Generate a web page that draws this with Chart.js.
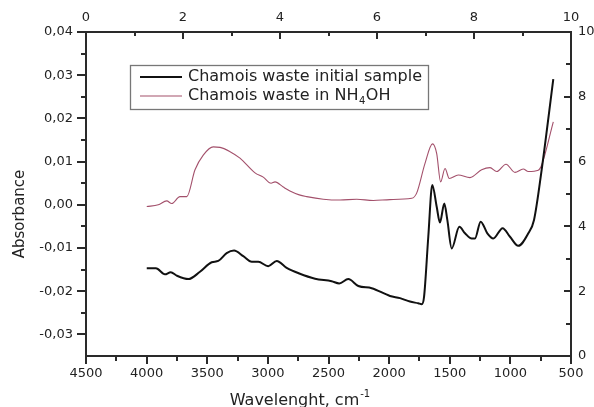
<!DOCTYPE html>
<html>
<head>
<meta charset="utf-8">
<script src="https://cdn.jsdelivr.net/npm/chart.js@4"></script>
<style>
html,body{margin:0;padding:0;background:#fff;}
canvas{display:block;}
</style>
</head>
<body>
<canvas id="c" width="594" height="407"></canvas>
<script>
// ---- data ----
const seriesLabels = ['Chamois waste initial sample', 'Chamois waste in NH\u2084OH'];
const wavenumberInitial = [3999,3923,3849,3801,3752,3656,3560,3463,3409,3340,3279,3203,3133,3079,2997,2927,2845,2741,2611,2474,2411,2337,2254,2144,1993,1910,1828,1760,1731,1712,1677,1644,1608,1581,1545,1520,1484,1421,1374,1319,1292,1245,1190,1141,1064,1003,935,852,805,742,646];
const absorbanceInitial = [-0.0147,-0.0147,-0.0161,-0.0156,-0.0164,-0.0172,-0.0155,-0.0133,-0.0130,-0.0112,-0.0106,-0.0119,-0.0132,-0.0132,-0.0142,-0.0130,-0.0146,-0.0159,-0.0171,-0.0177,-0.0182,-0.0172,-0.0188,-0.0193,-0.0211,-0.0216,-0.0224,-0.0228,-0.0230,-0.0213,-0.0074,0.0046,-0.0004,-0.0041,0.0003,-0.0035,-0.0101,-0.0051,-0.0066,-0.0078,-0.0078,-0.0039,-0.0066,-0.0078,-0.0054,-0.0074,-0.0095,-0.0066,-0.0035,0.0081,0.0291];
const wavenumberNH4OH = [3999,3904,3834,3793,3725,3669,3601,3533,3450,3395,3312,3230,3106,3038,2974,2941,2873,2818,2741,2680,2543,2405,2267,2131,1993,1814,1773,1704,1642,1608,1575,1539,1504,1430,1333,1237,1168,1113,1036,962,894,852,770,742,646];
const absorbanceNH4OH = [-0.0004,0.0000,0.0009,0.0003,0.0019,0.0019,0.0081,0.0115,0.0134,0.0133,0.0123,0.0108,0.0074,0.0064,0.0050,0.0053,0.0041,0.0032,0.0023,0.0019,0.0013,0.0011,0.0013,0.0010,0.0012,0.0015,0.0027,0.0096,0.0141,0.0119,0.0053,0.0084,0.0061,0.0069,0.0063,0.0081,0.0086,0.0077,0.0094,0.0075,0.0083,0.0077,0.0080,0.0092,0.0192];

const xTicksBottom = [4500,4000,3500,3000,2500,2000,1500,1000,500];
const xMinorBottom = [4250,3750,3250,2750,2250,1750,1250,750];
const yTicksLeft = [-0.03,-0.02,-0.01,0.00,0.01,0.02,0.03,0.04];
const yMinorLeft = [-0.025,-0.015,-0.005,0.005,0.015,0.025,0.035];
const auxTicks = [0,2,4,6,8,10];
const auxMinor = [1,3,5,7,9];

const xTitle = 'Wavelenght, cm';
const xTitleSup = '-1';
const yTitle = 'Absorbance';

const FONT = '"DejaVu Sans", "Liberation Sans", sans-serif';
const AXIS = '#2a2a2a';
const TEXT = '#222';

function pts(xs, ys){ return xs.map((x,i)=>({x:x, y:ys[i]})); }
function fmtComma(v){ return (Math.abs(v) < 1e-9 ? 0 : v).toFixed(2).replace('.', ','); }

const decorPlugin = {
  id: 'decor',
  afterDraw(chart){
    const ctx = chart.ctx;
    const s = chart.scales;
    const ca = chart.chartArea;
    ctx.save();
    ctx.strokeStyle = AXIS;
    ctx.lineWidth = 2;
    ctx.lineCap = 'butt';
    function line(x1,y1,x2,y2){ ctx.beginPath(); ctx.moveTo(x1,y1); ctx.lineTo(x2,y2); ctx.stroke(); }
    // left ticks (outward)
    yTicksLeft.forEach(v=>{ const y=Math.round(s.y.getPixelForValue(v)); line(ca.left-9,y,ca.left,y); });
    yMinorLeft.forEach(v=>{ const y=Math.round(s.y.getPixelForValue(v)); line(ca.left-5,y,ca.left,y); });
    // bottom ticks (outward)
    xTicksBottom.forEach(v=>{ const x=Math.round(s.x.getPixelForValue(v)); line(x,ca.bottom,x,ca.bottom+8); });
    xMinorBottom.forEach(v=>{ const x=Math.round(s.x.getPixelForValue(v)); line(x,ca.bottom,x,ca.bottom+5); });
    // top ticks (inward)
    auxTicks.forEach(v=>{ const x=Math.round(s.x2.getPixelForValue(v)); line(x,ca.top,x,ca.top+7); });
    auxMinor.forEach(v=>{ const x=Math.round(s.x2.getPixelForValue(v)); line(x,ca.top,x,ca.top+4); });
    // right ticks (inward)
    auxTicks.forEach(v=>{ const y=Math.round(s.y2.getPixelForValue(v)); line(ca.right-7,y,ca.right,y); });
    auxMinor.forEach(v=>{ const y=Math.round(s.y2.getPixelForValue(v)); line(ca.right-5,y,ca.right,y); });

    // legend box
    const bx=130, by=65, bw=298, bh=44;
    ctx.fillStyle='#fff';
    ctx.fillRect(bx,by,bw,bh);
    ctx.lineWidth=1.3;
    ctx.strokeStyle='#777';
    ctx.strokeRect(bx+0.5,by+0.5,bw,bh);
    const ds = chart.data.datasets;
    const rows=[77,96];
    ds.forEach((d,i)=>{
      ctx.strokeStyle=d.borderColor;
      ctx.lineWidth=d.borderWidth;
      line(140,rows[i],182,rows[i]);
      ctx.fillStyle=TEXT;
      ctx.textBaseline='middle';
      ctx.textAlign='left';
      const parts = d.label.split('\u2084');
      ctx.font='16px '+FONT;
      let x=188;
      ctx.fillText(parts[0],x,rows[i]);
      if(parts.length>1){
        x+=ctx.measureText(parts[0]).width;
        ctx.font='10px '+FONT;
        ctx.fillText('4',x+0.5,rows[i]+5);
        x+=ctx.measureText('4').width+1;
        ctx.font='16px '+FONT;
        ctx.fillText(parts[1],x,rows[i]);
      }
    });

    // x title with superscript
    ctx.fillStyle=TEXT;
    ctx.textBaseline='alphabetic';
    ctx.textAlign='left';
    ctx.font='16px '+FONT;
    const w1=ctx.measureText(xTitle).width;
    ctx.font='10px '+FONT;
    const w2=ctx.measureText(xTitleSup).width;
    const total=w1+w2+1;
    const cx=300;
    let tx=cx-total/2;
    ctx.font='16px '+FONT;
    ctx.fillText(xTitle,tx,405);
    ctx.font='10px '+FONT;
    ctx.fillText(xTitleSup,tx+w1+1,397);

    // y title
    ctx.save();
    ctx.translate(24,214);
    ctx.rotate(-Math.PI/2);
    ctx.font='15px '+FONT;
    ctx.textAlign='center';
    ctx.textBaseline='alphabetic';
    ctx.fillText(yTitle,0,0);
    ctx.restore();
    ctx.restore();
  }
};

function fixed(size, dim){ return function(scale){ scale[dim]=size; }; }

const tickFont = {family: FONT, size: 13};
const noGrid = {display:false, drawTicks:false, tickLength:0};
const border = {display:true, width:2, color:AXIS};

new Chart(document.getElementById('c'), {
  type: 'line',
  data: {
    datasets: [
      {label: seriesLabels[0], data: pts(wavenumberInitial, absorbanceInitial), borderColor:'#111', borderWidth:2, pointRadius:0, fill:false, cubicInterpolationMode:'monotone', xAxisID:'x', yAxisID:'y'},
      {label: seriesLabels[1], data: pts(wavenumberNH4OH, absorbanceNH4OH), borderColor:'#a3506b', borderWidth:1.1, pointRadius:0, fill:false, cubicInterpolationMode:'monotone', xAxisID:'x', yAxisID:'y'}
    ]
  },
  options: {
    responsive:false,
    animation:false,
    devicePixelRatio:1,
    layout:{padding:0},
    plugins:{legend:{display:false}, tooltip:{enabled:false}},
    scales:{
      x:{type:'linear', position:'bottom', reverse:true, min:500, max:4500,
         afterBuildTicks: s=>{ s.ticks = xTicksBottom.map(v=>({value:v})); },
         afterFit: fixed(51,'height'),
         grid:noGrid, border:border,
         ticks:{font:tickFont, color:TEXT, padding:10, maxRotation:0, autoSkip:false, callback:v=>String(v)}},
      x2:{type:'linear', position:'top', min:0, max:10,
         afterBuildTicks: s=>{ s.ticks = auxTicks.map(v=>({value:v})); },
         afterFit: fixed(32,'height'),
         grid:noGrid, border:border,
         ticks:{font:tickFont, color:TEXT, padding:7, maxRotation:0, autoSkip:false, callback:v=>String(v)}},
      y:{type:'linear', position:'left', min:-0.035, max:0.04,
         afterBuildTicks: s=>{ s.ticks = yTicksLeft.map(v=>({value:v})); },
         afterFit: fixed(86,'width'),
         grid:noGrid, border:border,
         ticks:{font:tickFont, color:TEXT, padding:13, autoSkip:false, callback:v=>fmtComma(v)}},
      y2:{type:'linear', position:'right', min:0, max:10,
         afterBuildTicks: s=>{ s.ticks = auxTicks.map(v=>({value:v})); },
         afterFit: fixed(23,'width'),
         grid:noGrid, border:border,
         ticks:{font:tickFont, color:TEXT, padding:7, autoSkip:false, callback:v=>String(v)}}
    }
  },
  plugins:[decorPlugin]
});
</script>
</body>
</html>
